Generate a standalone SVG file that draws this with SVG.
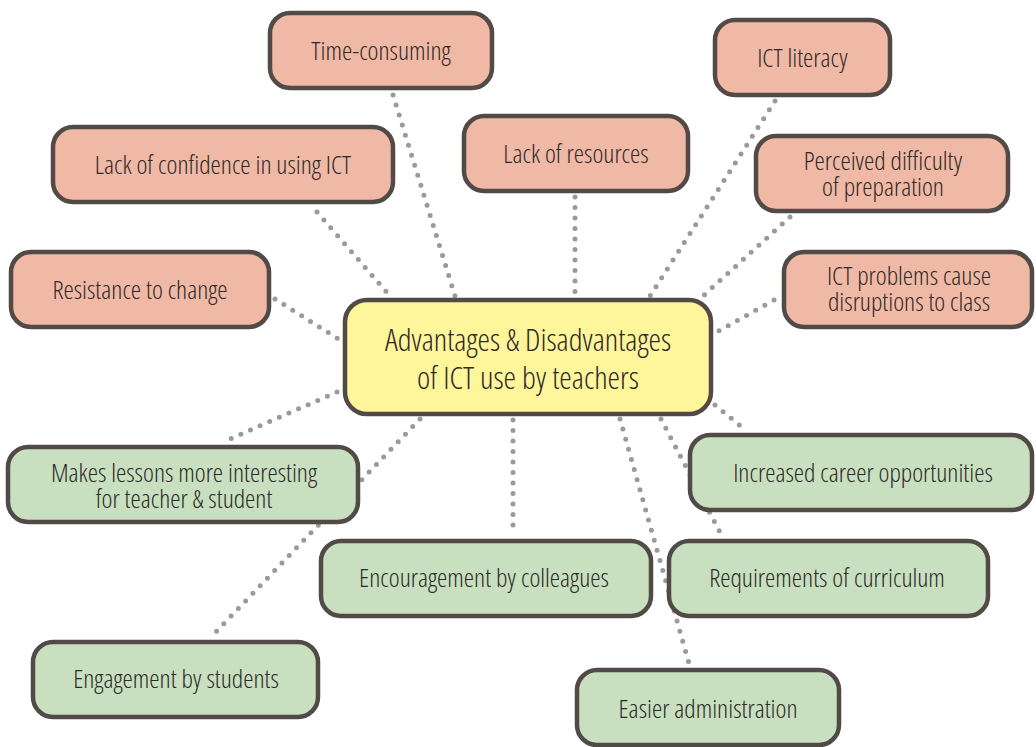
<svg xmlns="http://www.w3.org/2000/svg" width="1036" height="747" viewBox="0 0 1036 747">
<style>
.n rect{stroke:#524a46;stroke-width:4.5}
.neg rect{fill:#f0b9a5}
.pos rect{fill:#c8e0c0}
.ctr rect{fill:#fff59a}
text{font-family:"Open Sans","Liberation Sans Narrow","DejaVu Sans Condensed",sans-serif;font-stretch:condensed;font-weight:300;fill:#2e2a28;text-anchor:middle;font-size:26px}
.big{font-size:31.5px}
#connectors line{stroke:#9a9a9e;stroke-width:5;stroke-linecap:round;stroke-dasharray:0 10.5;fill:none}
</style>
<rect width="1036" height="747" fill="#fff"/>
<g id="connectors">
<line x1="393" y1="95" x2="455" y2="296"/>
<line x1="317" y1="212" x2="390" y2="296"/>
<line x1="575" y1="197" x2="575" y2="296"/>
<line x1="775" y1="101" x2="650" y2="296"/>
<line x1="790" y1="217" x2="703" y2="296"/>
<line x1="774" y1="300" x2="717" y2="332"/>
<line x1="275" y1="299" x2="340" y2="340"/>
<line x1="337" y1="392" x2="223" y2="442"/>
<line x1="420" y1="419" x2="213" y2="635"/>
<line x1="513" y1="420" x2="513" y2="535"/>
<line x1="620" y1="419" x2="690" y2="667"/>
<line x1="661" y1="419" x2="724" y2="540"/>
<line x1="715" y1="405" x2="743" y2="428"/>
</g>
<g id="center" class="n ctr"><rect x="345" y="300" width="366" height="114" rx="22"/><text class="big" x="528" y="351">Advantages &amp; Disadvantages</text><text class="big" x="528" y="389">of ICT use by teachers</text></g>
<g id="time" class="n neg"><rect x="270" y="13" width="222" height="75" rx="20"/><text x="381" y="60">Time-consuming</text></g>
<g id="literacy" class="n neg"><rect x="715" y="20" width="175" height="75" rx="20"/><text x="802.5" y="67">ICT literacy</text></g>
<g id="confidence" class="n neg"><rect x="53" y="127" width="340" height="75" rx="20"/><text x="223" y="174">Lack of confidence in using ICT</text></g>
<g id="resources" class="n neg"><rect x="464" y="116" width="224" height="75" rx="20"/><text x="576" y="163">Lack of resources</text></g>
<g id="difficulty" class="n neg"><rect x="756" y="136" width="252" height="75" rx="20"/><text x="883" y="170">Perceived difficulty</text><text x="883" y="196">of preparation</text></g>
<g id="resistance" class="n neg"><rect x="11" y="252" width="258" height="75" rx="20"/><text x="140" y="299">Resistance to change</text></g>
<g id="problems" class="n neg"><rect x="784" y="252" width="248" height="75" rx="20"/><text x="909" y="285">ICT problems cause</text><text x="909" y="311">disruptions to class</text></g>
<g id="interesting" class="n pos"><rect x="8" y="447" width="350" height="75" rx="20"/><text x="184" y="482">Makes lessons more interesting</text><text x="184" y="508">for teacher &amp; student</text></g>
<g id="career" class="n pos"><rect x="690" y="435" width="342" height="75" rx="20"/><text x="863" y="482">Increased career opportunities</text></g>
<g id="colleagues" class="n pos"><rect x="321" y="541" width="330" height="75" rx="20"/><text x="484" y="587">Encouragement by colleagues</text></g>
<g id="curriculum" class="n pos"><rect x="669" y="541" width="319" height="75" rx="20"/><text x="827" y="587">Requirements of curriculum</text></g>
<g id="engagement" class="n pos"><rect x="33" y="642" width="285" height="75" rx="20"/><text x="176" y="688">Engagement by students</text></g>
<g id="admin" class="n pos"><rect x="577" y="670" width="262" height="75" rx="20"/><text x="708" y="718">Easier administration</text></g>
</svg>
